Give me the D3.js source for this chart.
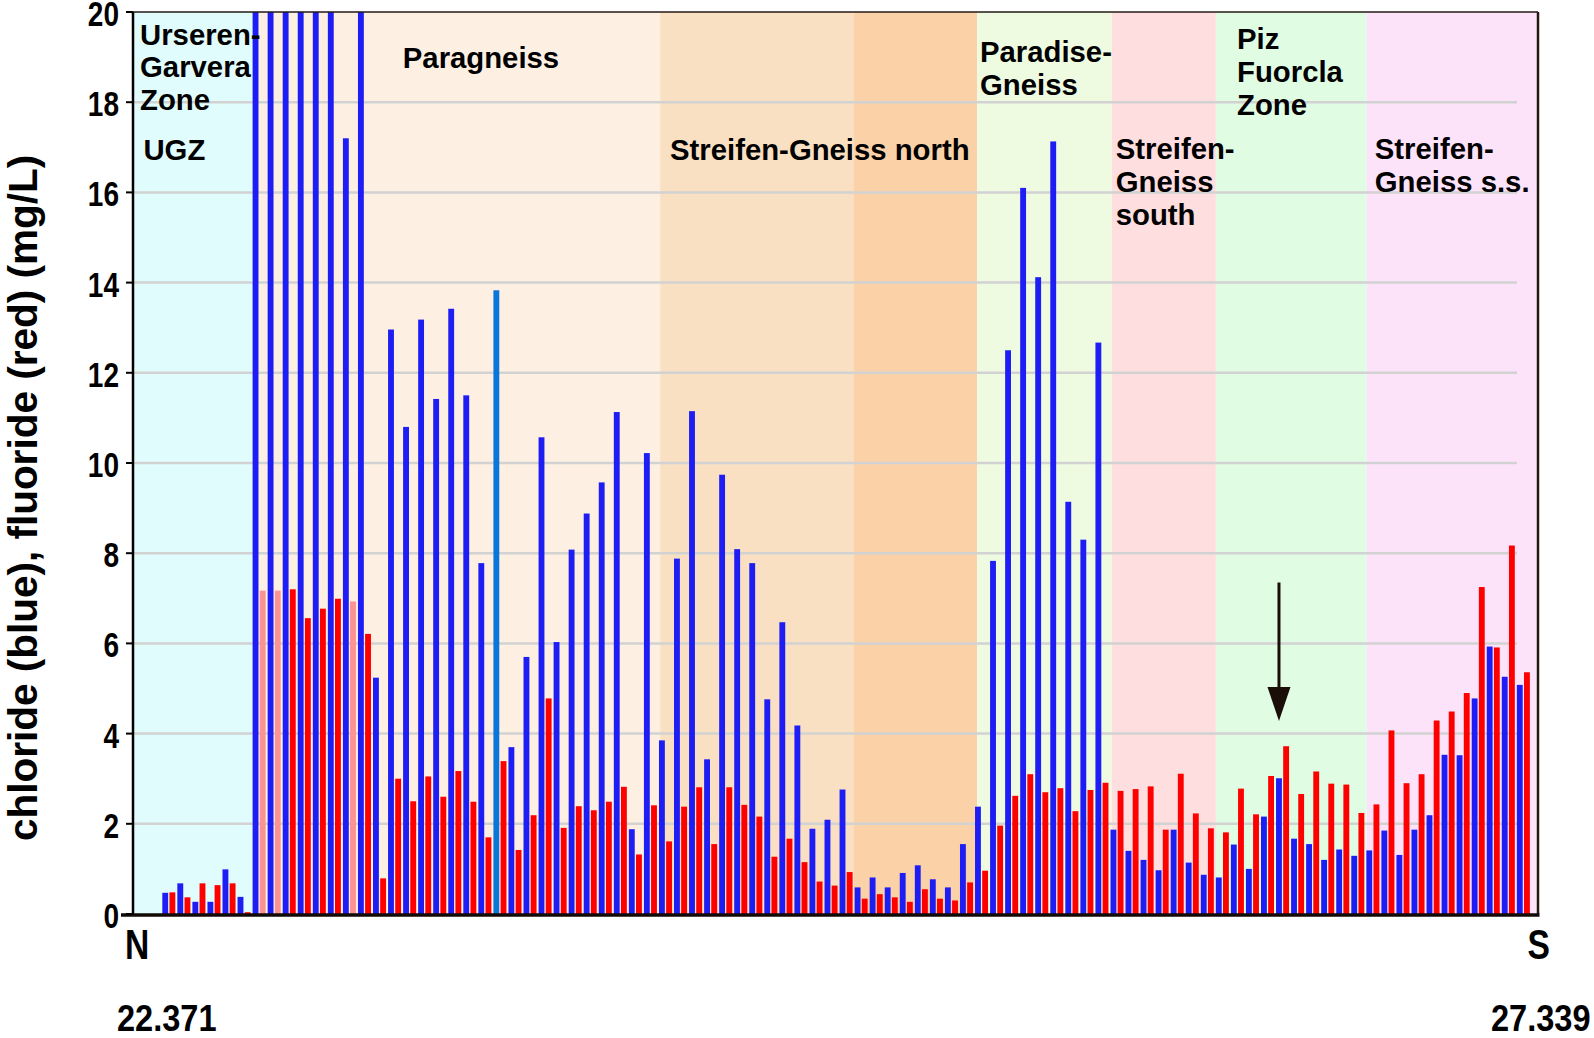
<!DOCTYPE html>
<html><head><meta charset="utf-8">
<script src="https://cdn.jsdelivr.net/npm/d3@7"></script>
<style>
body{margin:0;background:#fff}
svg{display:block}
text{font-family:"Liberation Sans",Arial,sans-serif;font-weight:bold;fill:#000}
</style>
</head><body>
<svg id="chart" width="1594" height="1038"></svg>
<script>
// ---- data (sample order from N to S) ----
const chloride = [0.47,0.68,0.27,0.27,0.99,0.38,24,24,24,24,24,24,17.2,24,5.24,12.96,10.8,13.18,11.42,13.42,
  11.5,7.78,13.83,3.7,5.7,10.57,6.03,8.08,8.88,9.57,11.13,1.88,10.22,3.85,7.88,11.15,3.43,9.74,8.09,7.78,
  4.76,6.47,4.18,1.89,2.09,2.76,0.59,0.81,0.59,0.91,1.08,0.77,0.59,1.55,2.38,7.83,12.5,16.1,14.12,17.13,
  9.14,8.3,12.67,1.87,1.4,1.2,0.97,1.87,1.14,0.87,0.81,1.54,1.0,2.16,3.01,1.67,1.55,1.2,1.43,1.29,
  1.41,1.85,1.31,1.87,2.19,3.53,3.52,4.78,5.93,5.26,5.08];
const fluoride = [0.48,0.37,0.68,0.64,0.68,0.04,7.17,7.17,7.2,6.56,6.77,6.99,6.93,6.21,0.79,3.0,2.5,3.05,2.6,3.17,
  2.49,1.7,3.39,1.42,2.19,4.78,1.91,2.39,2.3,2.49,2.82,1.32,2.41,1.61,2.38,2.81,1.55,2.81,2.42,2.16,
  1.27,1.67,1.15,0.72,0.63,0.93,0.34,0.44,0.37,0.27,0.55,0.34,0.3,0.7,0.96,1.96,2.62,3.1,2.7,2.79,
  2.28,2.75,2.91,2.73,2.77,2.83,1.87,3.11,2.23,1.9,1.81,2.78,2.21,3.06,3.72,2.66,3.16,2.89,2.87,2.24,
  2.43,4.07,2.9,3.1,4.29,4.49,4.9,7.25,5.91,8.17,5.36];
const chlorideFlagged = [22];        // drawn in lighter blue
const fluorideFlagged = [6, 7, 12];  // drawn in lighter red
const yTicks = [0,2,4,6,8,10,12,14,16,18,20];
const kmStart = 22.371, kmEnd = 27.339;
const endLabels = ["22.371", "27.339"];
const dirLabels = ["N", "S"];
const zoneStartKm = [22.371, 22.800, 24.235, 24.918, 25.356, 25.832, 26.200, 26.733];
const zoneEndKm   = [22.800, 24.235, 24.918, 25.356, 25.832, 26.200, 26.733, 27.339];
const zoneColors  = ["#e0fcfc","#fdf0e3","#f9e0c3","#fbd2a8","#eefbe1","#fedede","#e0fce2","#fde3f9"];
const zoneLabels = [
  ["Urseren-","Garvera","Zone"], ["UGZ"], ["Paragneiss"], ["Streifen-Gneiss north"],
  ["Paradise-","Gneiss"], ["Streifen-","Gneiss","south"], ["Piz","Fuorcla","Zone"], ["Streifen-","Gneiss s.s."]
];
const arrowSample = 74, arrowFrom = 7.35, arrowTo = 4.28;

// ---- layout ----
const svg = d3.select("#chart");
const L = 133, R = 1538, T = 12, B = 914;
const y = d3.scaleLinear().domain([0, 20]).range([B, T]);
const xKm = d3.scaleLinear().domain([kmStart, kmEnd]).range([L, R]);
const x = d3.scaleBand().domain(d3.range(chloride.length)).range([162.3, 1531.9]).padding(0);
const step = x.step();
const bw = step * 0.39, redOff = step * 0.475;
// label placement: [km, first baseline, line spacing]
const labelLayout = [
  [22.396, 45, 32.3], [22.408, 160, 0], [23.325, 68, 0], [24.270, 160, 0],
  [25.366, 62, 32.5], [25.846, 159, 33], [26.275, 49, 33], [26.762, 159, 33]
];

// backgrounds
svg.append("g").selectAll("rect").data(zoneStartKm).join("rect")
  .attr("x", d => xKm(d)).attr("y", T)
  .attr("width", (d, i) => xKm(zoneEndKm[i]) - xKm(d)).attr("height", B - T)
  .attr("fill", (d, i) => zoneColors[i]);

// gridlines
svg.append("g").selectAll("line").data(yTicks.filter(v => v > 0 && v < 20)).join("line")
  .attr("x1", L).attr("x2", 1517).attr("y1", d => y(d)).attr("y2", d => y(d))
  .attr("stroke", "#d2d2d2").attr("stroke-width", 2.5);

// bars
svg.append("clipPath").attr("id", "clip").append("rect")
  .attr("x", L).attr("y", T).attr("width", R - L).attr("height", B - T);
const bars = svg.append("g").attr("clip-path", "url(#clip)");
bars.selectAll("rect.cl").data(chloride).join("rect").attr("class", "cl")
  .attr("x", (d, i) => x(i)).attr("width", bw)
  .attr("y", d => y(d)).attr("height", d => y(0) - y(d))
  .attr("fill", (d, i) => chlorideFlagged.includes(i) ? "#0a76da" : "#1e1ef4");
bars.selectAll("rect.fl").data(fluoride).join("rect").attr("class", "fl")
  .attr("x", (d, i) => x(i) + redOff).attr("width", bw)
  .attr("y", d => y(d)).attr("height", d => y(0) - y(d))
  .attr("fill", (d, i) => fluorideFlagged.includes(i) ? "#fb9393" : "#fe0000");

// zone labels (on top of bars)
zoneLabels.forEach((lines, i) => {
  const [km, top, lh] = labelLayout[i];
  const t = svg.append("text").attr("x", xKm(km)).attr("y", top).attr("font-size", 29.3);
  lines.forEach((s, j) => t.append("tspan").attr("x", xKm(km)).attr("y", top + j * lh).text(s));
});

// arrow
const ax = x(arrowSample) + bw / 2;
const headH = 34, headW = 23;
svg.append("line").attr("x1", ax).attr("x2", ax).attr("y1", y(arrowFrom)).attr("y2", y(arrowTo) - headH + 2)
  .attr("stroke", "#1a0e08").attr("stroke-width", 3);
svg.append("path")
  .attr("d", `M${ax - headW / 2},${y(arrowTo) - headH} L${ax + headW / 2},${y(arrowTo) - headH} L${ax},${y(arrowTo)} Z`)
  .attr("fill", "#1a0e08");

// frame
svg.append("line").attr("x1", L).attr("x2", R).attr("y1", T).attr("y2", T).attr("stroke", "#231a14").attr("stroke-width", 1.5);
svg.append("line").attr("x1", R).attr("x2", R).attr("y1", T).attr("y2", B).attr("stroke", "#231a14").attr("stroke-width", 2.5);
svg.append("line").attr("x1", L).attr("x2", L).attr("y1", T).attr("y2", B + 1).attr("stroke", "#000").attr("stroke-width", 2.5);
svg.append("line").attr("x1", L - 12).attr("x2", R + 1.5).attr("y1", B + 1).attr("y2", B + 1).attr("stroke", "#120a06").attr("stroke-width", 3.5);

// y ticks + labels
const yAxis = svg.append("g");
yAxis.selectAll("line").data(yTicks).join("line")
  .attr("x1", L - 7).attr("x2", L).attr("y1", d => y(d)).attr("y2", d => y(d))
  .attr("stroke", "#000").attr("stroke-width", 2);
yAxis.selectAll("text").data(yTicks).join("text")
  .attr("transform", d => `translate(119,${y(d)}) scale(0.8,1)`)
  .attr("text-anchor", "end").attr("dy", "0.4em").attr("font-size", 35)
  .text(d => d);

// y title
svg.append("text").attr("transform", "translate(37,498) rotate(-90)")
  .attr("text-anchor", "middle").attr("font-size", 40.5)
  .text("chloride (blue), fluoride (red) (mg/L)");

// N / S and km labels
svg.append("text").attr("transform", `translate(${L - 8},959) scale(0.8,1)`).attr("font-size", 42).text(dirLabels[0]);
svg.append("text").attr("transform", `translate(${R + 12},959) scale(0.8,1)`).attr("text-anchor", "end").attr("font-size", 42).text(dirLabels[1]);
svg.append("text").attr("transform", `translate(117,1031) scale(0.88,1)`).attr("font-size", 37).text(endLabels[0]);
svg.append("text").attr("transform", `translate(1491,1031) scale(0.88,1)`).attr("font-size", 37).text(endLabels[1]);
</script>
</body></html>
